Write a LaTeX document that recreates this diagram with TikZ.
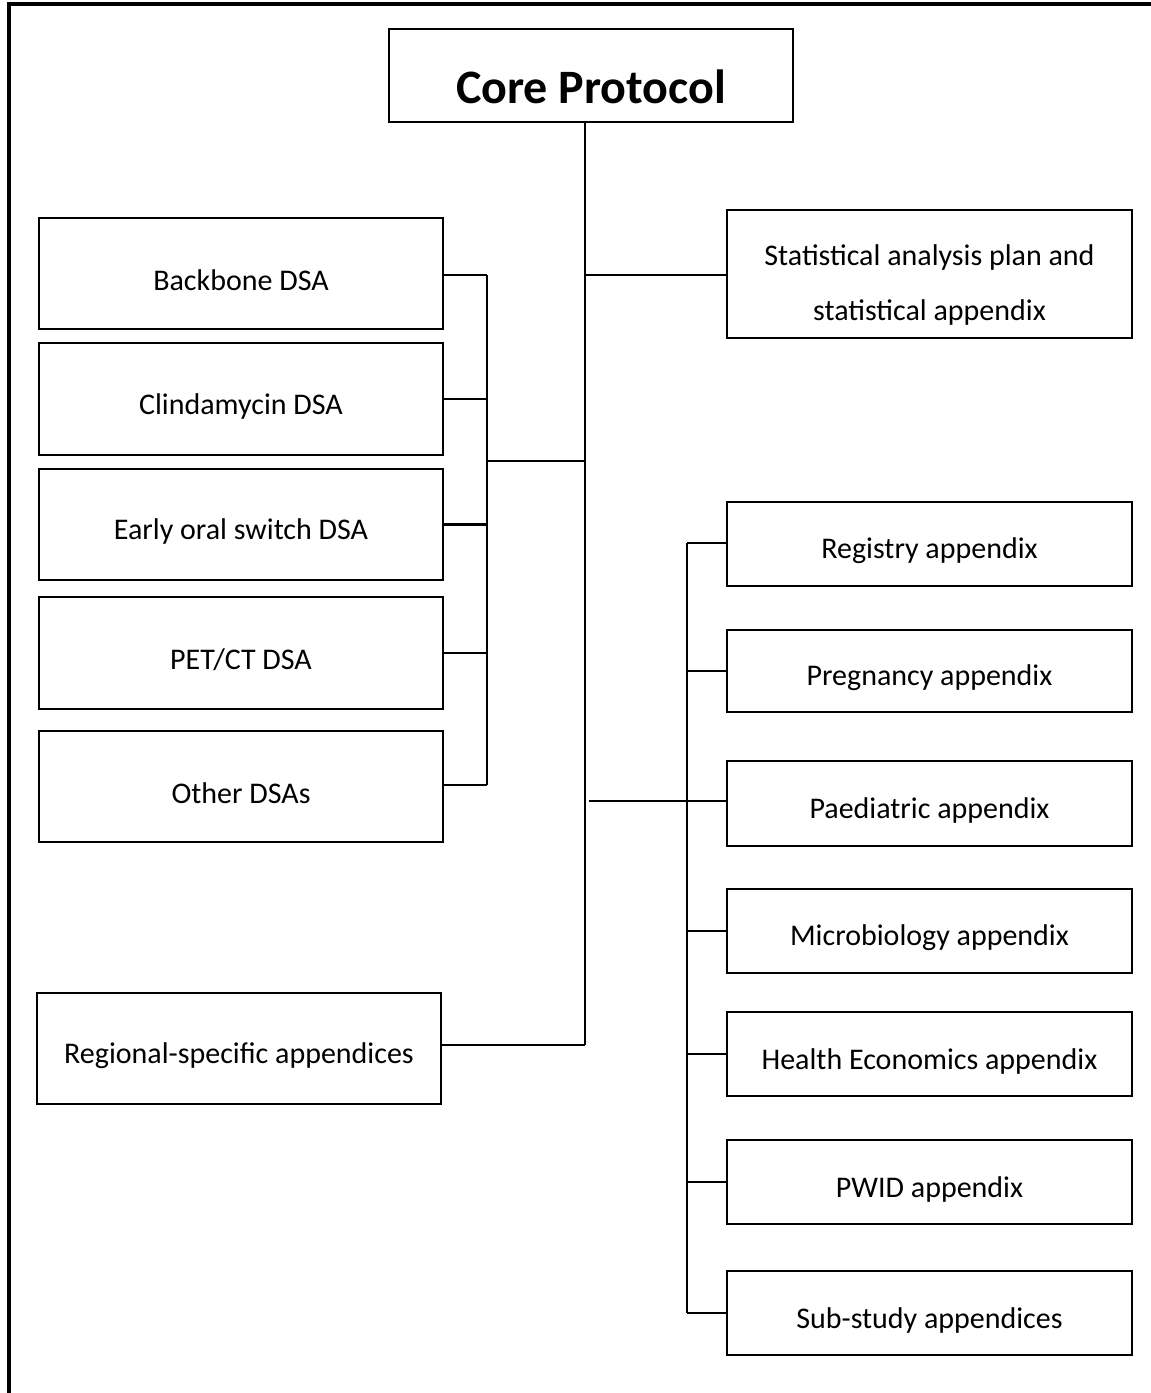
\documentclass[tikz,border=0pt]{standalone}
\usepackage{fontspec}
\setmainfont{Carlito}
\newcommand{\dn}[1]{\raisebox{-7pt}[\height][\depth]{#1}}
\begin{document}
\begin{tikzpicture}[x=1pt,y=-1pt,
  box/.style={draw,line width=2.6pt,rectangle,inner sep=0pt,align=center,font=\fontsize{30}{55}\selectfont},
  ln/.style={line width=2.6pt}]
\useasboundingbox (0,0) rectangle (1151,1393);
\draw[line width=4pt] (9,1400) -- (9,4) -- (1160,4);
% top
\node[box,minimum width=404pt,minimum height=93pt,font=\fontsize{48}{56}\bfseries] (core) at (591,75.5) {\raisebox{-11pt}[\height][\depth]{Core Protocol}};
\node[box,minimum width=405pt,minimum height=128pt] (stat) at (929.5,274) {\raisebox{-8pt}[\height][\depth]{\begin{tabular}{@{}c@{}}Statistical analysis plan and\\statistical appendix\end{tabular}}};
% left DSA
\node[box,minimum width=404pt,minimum height=111pt] (bb) at (241,273.5) {\dn{Backbone DSA}};
\node[box,minimum width=404pt,minimum height=112pt] (cl) at (241,399) {\dn{Clindamycin DSA}};
\node[box,minimum width=404pt,minimum height=111pt] (eo) at (241,524.5) {\dn{Early oral switch DSA}};
\node[box,minimum width=404pt,minimum height=112pt] (pet) at (241,653) {\dn{PET/CT DSA}};
\node[box,minimum width=404pt,minimum height=111pt] (oth) at (241,786.5) {\dn{Other DSAs}};
\node[box,minimum width=404pt,minimum height=111pt] (reg) at (239,1048.5) {\dn{Regional-specific appendices}};
% right appendices
\node[box,minimum width=405pt,minimum height=84pt] (ry) at (929.5,544) {\dn{Registry appendix}};
\node[box,minimum width=405pt,minimum height=82pt] (pg) at (929.5,671) {\dn{Pregnancy appendix}};
\node[box,minimum width=405pt,minimum height=85pt] (pd) at (929.5,803.5) {\dn{Paediatric appendix}};
\node[box,minimum width=405pt,minimum height=84pt] (mb) at (929.5,931) {\dn{Microbiology appendix}};
\node[box,minimum width=405pt,minimum height=84pt] (he) at (929.5,1054) {\dn{Health Economics appendix}};
\node[box,minimum width=405pt,minimum height=84pt] (pw) at (929.5,1182) {\dn{PWID appendix}};
\node[box,minimum width=405pt,minimum height=84pt] (ss) at (929.5,1313) {\dn{Sub-study appendices}};
% junction coordinates
\coordinate (mtop) at (585,122);
\coordinate (mbot) at (585,1045);
\coordinate (jstat) at (585,275);
\coordinate (jdsa) at (585,461);
\coordinate (ldsa) at (487,461);
\coordinate (lt) at (487,275);
\coordinate (lb) at (487,785);
\coordinate (japp) at (589,801);
\coordinate (rt) at (687,543);
\coordinate (rb) at (687,1313);
% connectors
\draw[ln] (core.south -| mtop) -- (mbot);
\draw[ln] (jstat) -- (stat.west |- jstat);
\draw[ln] (lt) -- (lb);
\draw[ln] (bb.east |- lt) -- (lt);
\draw[ln] (cl.east) -- (cl.east -| lt);
\draw[ln] (eo.east) -- (eo.east -| lt);
\draw[ln] (pet.east) -- (pet.east -| lt);
\draw[ln] (oth.east |- lb) -- (lb);
\draw[ln] (ldsa) -- (jdsa);
\draw[ln] (reg.east |- mbot) -- (mbot);
\draw[ln] (japp) -- (pd.west |- japp);
\draw[ln] (rt) -- (rb);
\draw[ln] (rt) -- (ry.west |- rt);
\draw[ln] (pg.west -| rt) -- (pg.west);
\draw[ln] (mb.west -| rt) -- (mb.west);
\draw[ln] (he.west -| rt) -- (he.west);
\draw[ln] (pw.west -| rt) -- (pw.west);
\draw[ln] (rb) -- (ss.west |- rb);
\end{tikzpicture}
\end{document}
